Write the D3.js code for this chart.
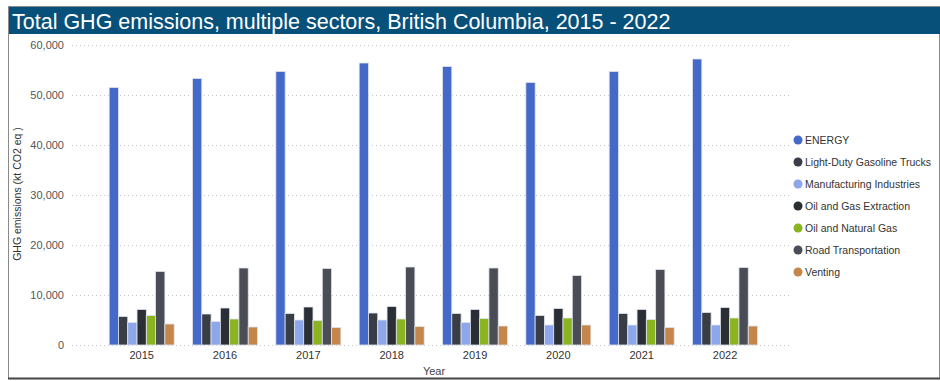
<!DOCTYPE html>
<html>
<head>
<meta charset="utf-8">
<script src="https://cdn.jsdelivr.net/npm/d3@7"></script>
<style>
  body { margin: 0; background: #fff; }
  svg { display: block; font-family: 'Liberation Sans', Arial, sans-serif; }
</style>
</head>
<body>
<div id="chart"></div>
<script>
// years on the x axis
const years = ['2015', '2016', '2017', '2018', '2019', '2020', '2021', '2022']

// sectors, in legend order
const sectors = ['ENERGY', 'Light-Duty Gasoline Trucks', 'Manufacturing Industries',
  'Oil and Gas Extraction', 'Oil and Natural Gas', 'Road Transportation', 'Venting']

const sectorColors = ['#4569c9', '#393d46', '#8ea6ea', '#2a2e35', '#8bb421', '#4b4d56', '#c4864b']

// kt CO2 eq, one list per sector
const energy = [51500, 53300, 54700, 56400, 55700, 52500, 54700, 57200]
const lightDuty = [5700, 6200, 6300, 6400, 6300, 5900, 6300, 6500]
const manufacturing = [4500, 4700, 5000, 5000, 4500, 4000, 4000, 4000]
const oilGasExtraction = [7100, 7400, 7600, 7700, 7100, 7300, 7100, 7500]
const oilNaturalGas = [5900, 5200, 4900, 5200, 5300, 5400, 5100, 5400]
const roadTransport = [14700, 15400, 15300, 15600, 15400, 13900, 15100, 15500]
const venting = [4200, 3600, 3500, 3700, 3800, 4000, 3500, 3800]

const yTicks = [0, 10000, 20000, 30000, 40000, 50000, 60000]

const series = [energy, lightDuty, manufacturing, oilGasExtraction, oilNaturalGas, roadTransport, venting]

const width = 940
const height = 381

const svg = d3.select('#chart')
  .append('svg')
  .attr('width', width)
  .attr('height', height)

// outer frame
svg.append('rect')
  .attr('x', 8.5)
  .attr('y', 6.5)
  .attr('width', width - 9)
  .attr('height', 372)
  .attr('fill', '#fff')
  .attr('stroke', '#8a8a8a')
  .attr('stroke-width', 1)

svg.append('line')
  .attr('x1', 8).attr('x2', width)
  .attr('y1', 378.5).attr('y2', 378.5)
  .attr('stroke', '#444')
  .attr('stroke-width', 2)

// title bar
svg.append('rect')
  .attr('x', 9)
  .attr('y', 7)
  .attr('width', width - 9)
  .attr('height', 27)
  .attr('fill', '#07507a')

svg.append('text')
  .attr('x', 12)
  .attr('y', 28.5)
  .attr('fill', '#fff')
  .attr('font-size', 21.5)
  .text('Total GHG emissions, multiple sectors, British Columbia, 2015 - 2022')

const plot = { left: 72, right: 792, top: 45, bottom: 345 }

const x = d3.scaleBand()
  .domain(years)
  .range([100, 766.7])
  .paddingInner(0.22)
  .paddingOuter(0.11)

const xInner = d3.scaleBand()
  .domain(sectors)
  .range([0, x.bandwidth()])

const y = d3.scaleLinear()
  .domain([0, 60000])
  .range([plot.bottom, plot.top])

// grid
svg.append('g')
  .selectAll('line')
  .data(yTicks)
  .join('line')
  .attr('x1', plot.left)
  .attr('x2', plot.right)
  .attr('y1', d => y(d) + 0.5)
  .attr('y2', d => y(d) + 0.5)
  .attr('stroke', '#c8c8c8')
  .attr('stroke-width', 1)
  .attr('stroke-dasharray', '1,3')

// y axis
const yAxis = svg.append('g')
  .attr('transform', `translate(${plot.left - 6},0)`)
  .call(d3.axisLeft(y).tickValues(yTicks).tickSize(0).tickPadding(2).tickFormat(d3.format(',')))
yAxis.select('.domain').remove()
yAxis.selectAll('text')
  .attr('fill', '#555')
  .attr('font-size', 11)
  .attr('font-family', 'Liberation Sans, Arial, sans-serif')

// x axis
const xAxis = svg.append('g')
  .attr('transform', `translate(0,${plot.bottom})`)
  .call(d3.axisBottom(x).tickSize(0).tickPadding(6))
xAxis.select('.domain').remove()
xAxis.selectAll('text')
  .attr('fill', '#333')
  .attr('font-size', 11)
  .attr('font-family', 'Liberation Sans, Arial, sans-serif')

// axis titles
svg.append('text')
  .attr('transform', `translate(21,${(plot.top + plot.bottom) / 2 - 1}) rotate(-90)`)
  .attr('text-anchor', 'middle')
  .attr('font-size', 10.5)
  .attr('fill', '#333')
  .text('GHG emissions (kt CO2 eq )')

svg.append('text')
  .attr('x', 434)
  .attr('y', 375)
  .attr('text-anchor', 'middle')
  .attr('font-size', 11)
  .attr('fill', '#444')
  .text('Year')

// bars
const groups = svg.append('g')
  .selectAll('g')
  .data(years)
  .join('g')
  .attr('transform', d => `translate(${x(d)},0)`)

groups.selectAll('rect')
  .data((yr, yi) => sectors.map((s, si) => ({ sector: s, value: series[si][yi], color: sectorColors[si] })))
  .join('rect')
  .attr('x', d => xInner(d.sector))
  .attr('y', d => y(d.value))
  .attr('width', xInner.bandwidth())
  .attr('height', d => plot.bottom - y(d.value))
  .attr('fill', d => d.color)
  .attr('stroke', '#dfe3ea')
  .attr('stroke-width', 0.8)

// legend
const legend = svg.append('g')
  .attr('transform', 'translate(798,140)')

const item = legend.selectAll('g')
  .data(sectors)
  .join('g')
  .attr('transform', (d, i) => `translate(0,${i * 22})`)

item.append('circle')
  .attr('r', 4.5)
  .attr('fill', (d, i) => sectorColors[i])

item.append('text')
  .attr('x', 7)
  .attr('y', 4)
  .attr('font-size', 10.5)
  .attr('fill', '#333')
  .text(d => d)
</script>
</body>
</html>
